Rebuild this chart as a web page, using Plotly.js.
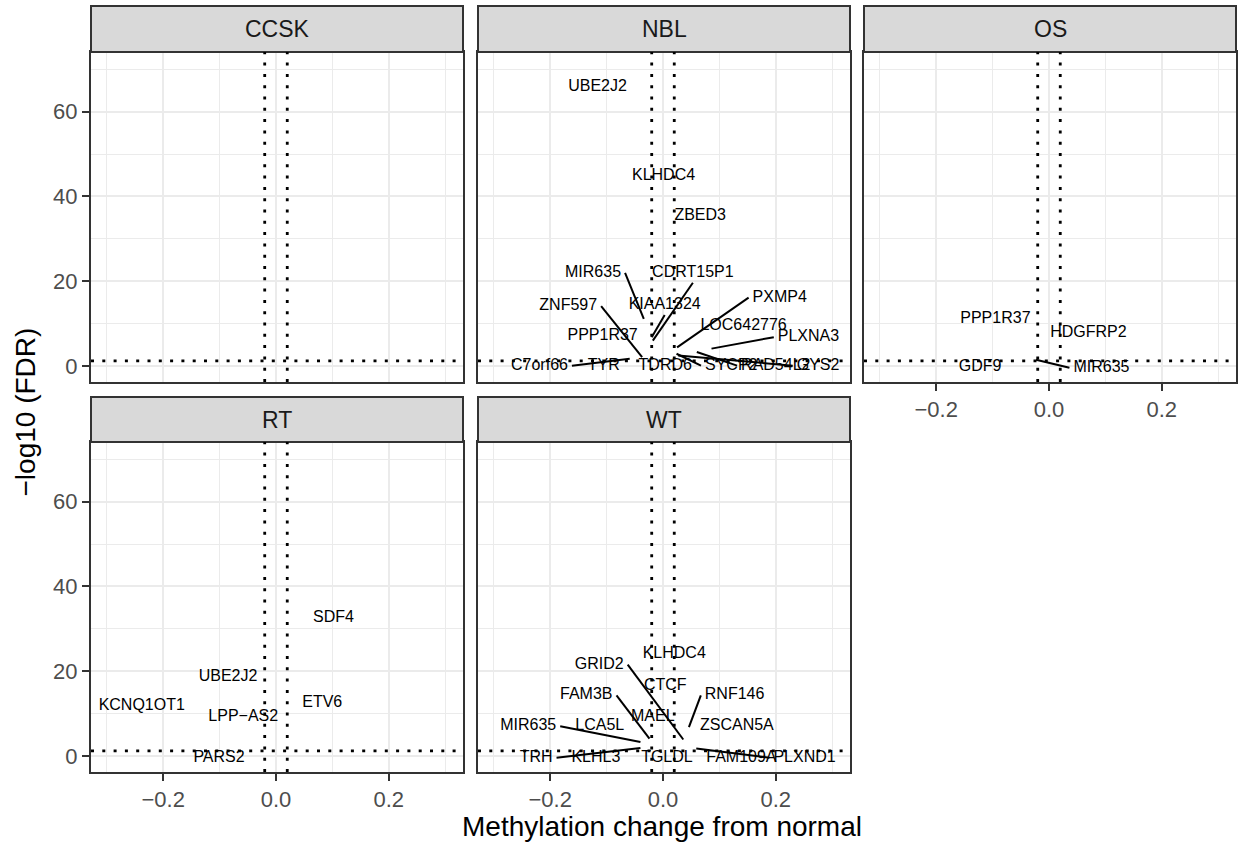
<!DOCTYPE html>
<html>
<head>
<meta charset="utf-8">
<script src="https://cdn.plot.ly/plotly-3.0.1.min.js"></script>
<style>html,body{margin:0;padding:0;background:#fff;}#chart{width:1238px;height:843px;}</style>
</head>
<body>
<div id="chart"></div>
<script>
// ---- data ----
const panels = ['CCSK', 'NBL', 'OS', 'RT', 'WT'];
const thresholdX = [-0.02, 0.02];
const thresholdY = [1.3];           // -log10(0.05)
const xTickVals = [-0.2, 0, 0.2];
const xTickText = ['\u22120.2', '0.0', '0.2'];
const yTickVals = [0, 20, 40, 60];
const yTickText = ['0', '20', '40', '60'];

const labelPanel = [
  'NBL','NBL','NBL','NBL','NBL','NBL','NBL','NBL','NBL','NBL','NBL','NBL','NBL','NBL','NBL','NBL','NBL',
  'OS','OS','OS','OS',
  'RT','RT','RT','RT','RT','RT',
  'WT','WT','WT','WT','WT','WT','WT','WT','WT','WT','WT','WT','WT','WT'
];
const labelGene = [
  'UBE2J2','KLHDC4','ZBED3','MIR635','CDRT15P1','ZNF597','KIAA1324','PPP1R37','LOC642776','PXMP4','PLXNA3','C7orf66','TYR','TDRD6','SYCP2','RAD54L2','GYS2',
  'PPP1R37','HDGFRP2','GDF9','MIR635',
  'SDF4','UBE2J2','KCNQ1OT1','ETV6','LPP\u2212AS2','PARS2',
  'KLHDC4','GRID2','CTCF','FAM3B','RNF146','MAEL','MIR635','LCA5L','ZSCAN5A','TRH','KLHL3','TGLDL','FAM109A','PLXND1'
];
const labelX = [
  -0.116, 0.001, 0.066, -0.124, 0.053, -0.168, 0.003, -0.107, 0.143, 0.207, 0.258, -0.219, -0.105, 0.004, 0.121, 0.200, 0.275,
  -0.095, 0.070, -0.122, 0.093,
  0.102, -0.085, -0.238, 0.082, -0.058, -0.101,
  0.020, -0.113, 0.004, -0.136, 0.127, -0.018, -0.239, -0.112, 0.131, -0.225, -0.119, 0.007, 0.139, 0.251
];
const labelY = [
  65.7, 44.9, 35.4, 22.0, 22.0, 14.2, 14.4, 7.1, 9.6, 16.2, 6.9, 0.2, 0.2, 0.2, 0.2, 0.2, 0.2,
  11.2, 7.9, -0.2, -0.3,
  32.5, 18.8, 11.8, 12.5, 9.3, -0.3,
  24.0, 21.6, 16.7, 14.4, 14.4, 9.3, 7.1, 7.1, 7.1, -0.3, -0.3, -0.3, -0.3, -0.3
];
// underlying points (null where the point sits under its own label, no segment)
const pointX = [
  null, null, null, -0.034, -0.018, -0.037, -0.020, null, null, 0.025, 0.086, -0.059, null, null, 0.024, 0.060, 0.027,
  null, null, null, -0.023,
  null, null, null, null, null, null,
  null, 0.036, null, -0.024, 0.046, null, -0.040, null, null, -0.040, null, null, null, 0.059
];
const pointY = [
  null, null, null, 11.2, 6.1, 2.2, 6.9, null, null, 4.5, 4.2, 1.8, null, null, 3.0, 3.4, 2.6,
  null, null, null, 1.6,
  null, null, null, null, null, null,
  null, 4.0, null, 4.2, 6.9, null, 3.4, null, null, 2.0, null, null, null, 1.9
];

// ---- layout geometry ----
const W = 1238, H = 843;
const FONT = 'Liberation Sans, Arial, Helvetica, sans-serif';
const colDom = [[91, 463], [478, 850], [864, 1236]];
const rowDom = [[52, 382], [442, 772]];
const stripRow = [[6, 52], [397, 442]];
const xRange = [-0.328, 0.3316];
const yRange = [-3.65, 74.0];
const cell = [[0,0],[0,1],[0,2],[1,0],[1,1]]; // row, col for each panel
const showXLab = [false, false, true, true, true];
const showYLab = [true, false, false, true, false];

const layout = {
  width: W, height: H,
  margin: {l: 0, r: 0, t: 0, b: 0},
  paper_bgcolor: '#ffffff', plot_bgcolor: '#ffffff',
  showlegend: false,
  font: {family: FONT, color: '#000000'},
  shapes: [], annotations: []
};

const traces = [];
const ctx = document.createElement('canvas').getContext('2d');
const LABEL_SIZE = 16;
ctx.font = LABEL_SIZE + 'px "Liberation Sans"';

panels.forEach((p, i) => {
  const [r, c] = cell[i];
  const k = i === 0 ? '' : String(i + 1);
  const xd = [colDom[c][0] / W, colDom[c][1] / W];
  const yd = [1 - rowDom[r][1] / H, 1 - rowDom[r][0] / H];
  layout['xaxis' + k] = {
    domain: xd, anchor: 'y' + k, range: xRange, fixedrange: true,
    tickmode: 'array', tickvals: xTickVals, ticktext: xTickText,
    showticklabels: showXLab[i], ticks: showXLab[i] ? 'outside' : '',
    ticklen: 7, tickwidth: 2, tickcolor: '#333333',
    tickfont: {family: FONT, size: 22, color: '#4D4D4D'},
    showline: true, mirror: true, linecolor: '#333333', linewidth: 2,
    showgrid: true, gridcolor: '#EBEBEB', gridwidth: 2, zeroline: false,
    minor: {tickmode: 'array', tickvals: [-0.3, -0.1, 0.1, 0.3], showgrid: true, gridcolor: '#EBEBEB', gridwidth: 1, ticks: ''}
  };
  layout['yaxis' + k] = {
    domain: yd, anchor: 'x' + k, range: yRange, fixedrange: true,
    tickmode: 'array', tickvals: yTickVals, ticktext: yTickText,
    showticklabels: showYLab[i], ticks: showYLab[i] ? 'outside' : '',
    ticklen: 7, tickwidth: 2, tickcolor: '#333333',
    tickfont: {family: FONT, size: 22, color: '#4D4D4D'},
    showline: true, mirror: true, linecolor: '#333333', linewidth: 2,
    showgrid: true, gridcolor: '#EBEBEB', gridwidth: 2, zeroline: false,
    minor: {tickmode: 'array', tickvals: [10, 30, 50, 70], showgrid: true, gridcolor: '#EBEBEB', gridwidth: 1, ticks: ''}
  };
  // strip
  layout.shapes.push({
    type: 'rect', xref: 'paper', yref: 'paper', layer: 'above',
    x0: xd[0], x1: xd[1], y0: 1 - stripRow[r][1] / H, y1: 1 - stripRow[r][0] / H,
    fillcolor: '#D9D9D9', line: {color: '#333333', width: 2}
  });
  layout.annotations.push({
    xref: 'paper', yref: 'paper', x: (xd[0] + xd[1]) / 2, y: 1 - (stripRow[r][0] + stripRow[r][1]) / 2 / H,
    xanchor: 'center', yanchor: 'middle', showarrow: false, text: p,
    font: {family: FONT, size: 23, color: '#1A1A1A'}
  });
  // threshold lines
  thresholdX.forEach(v => layout.shapes.push({
    type: 'line', xref: 'x' + k, yref: 'y' + k + ' domain', x0: v, x1: v, y0: 0, y1: 1, layer: 'above',
    line: {color: '#000000', width: 2.8, dash: '3px,8.3px'}
  }));
  thresholdY.forEach(v => layout.shapes.push({
    type: 'line', xref: 'x' + k + ' domain', yref: 'y' + k, x0: 0, x1: 1, y0: v, y1: v, layer: 'above',
    line: {color: '#000000', width: 2.8, dash: '3px,8.3px'}
  }));

  // labels & repel segments
  const sx = (colDom[c][1] - colDom[c][0]) / (xRange[1] - xRange[0]);
  const sy = (rowDom[r][1] - rowDom[r][0]) / (yRange[1] - yRange[0]);
  const tx = [], ty = [], tt = [], segX = [], segY = [];
  labelPanel.forEach((lp, j) => {
    if (lp !== p) return;
    tx.push(labelX[j]); ty.push(labelY[j]); tt.push(labelGene[j]);
    if (pointX[j] === null) return;
    const w = ctx.measureText(labelGene[j]).width;
    const halfW = w / 2 + 4, halfH = LABEL_SIZE * 0.36 + 4;
    const dxp = (pointX[j] - labelX[j]) * sx, dyp = (pointY[j] - labelY[j]) * sy;
    let s;
    if (Math.abs(dxp) > halfW) s = [labelX[j] + Math.sign(dxp) * halfW / sx, labelY[j]];
    else if (Math.abs(dyp) > halfH) s = [labelX[j], labelY[j] + Math.sign(dyp) * halfH / sy];
    else return;
    segX.push(s[0], pointX[j], null); segY.push(s[1], pointY[j], null);
  });
  traces.push({
    type: 'scatter', mode: 'lines', x: segX.length ? segX : [null], y: segY.length ? segY : [null],
    xaxis: 'x' + k, yaxis: 'y' + k, line: {color: '#000000', width: 2}, hoverinfo: 'skip'
  });
  traces.push({
    type: 'scatter', mode: 'text', x: tx.length ? tx : [null], y: ty.length ? ty : [null], text: tt,
    textposition: 'middle center', xaxis: 'x' + k, yaxis: 'y' + k,
    textfont: {family: FONT, size: LABEL_SIZE, color: '#000000'}, hoverinfo: 'skip'
  });
});

// axis titles
layout.annotations.push({
  xref: 'paper', yref: 'paper', x: 662.5 / W, y: 1 - 826 / H, xanchor: 'center', yanchor: 'middle',
  showarrow: false, text: 'Methylation change from normal', font: {family: FONT, size: 28, color: '#000000'}
});
layout.annotations.push({
  xref: 'paper', yref: 'paper', x: 24.5 / W, y: 1 - 412 / H, xanchor: 'center', yanchor: 'middle',
  showarrow: false, textangle: -90, text: '\u2212log10 (FDR)', font: {family: FONT, size: 28, color: '#000000'}
});

Plotly.newPlot('chart', traces, layout, {staticPlot: true, displayModeBar: false});
</script>
</body>
</html>
